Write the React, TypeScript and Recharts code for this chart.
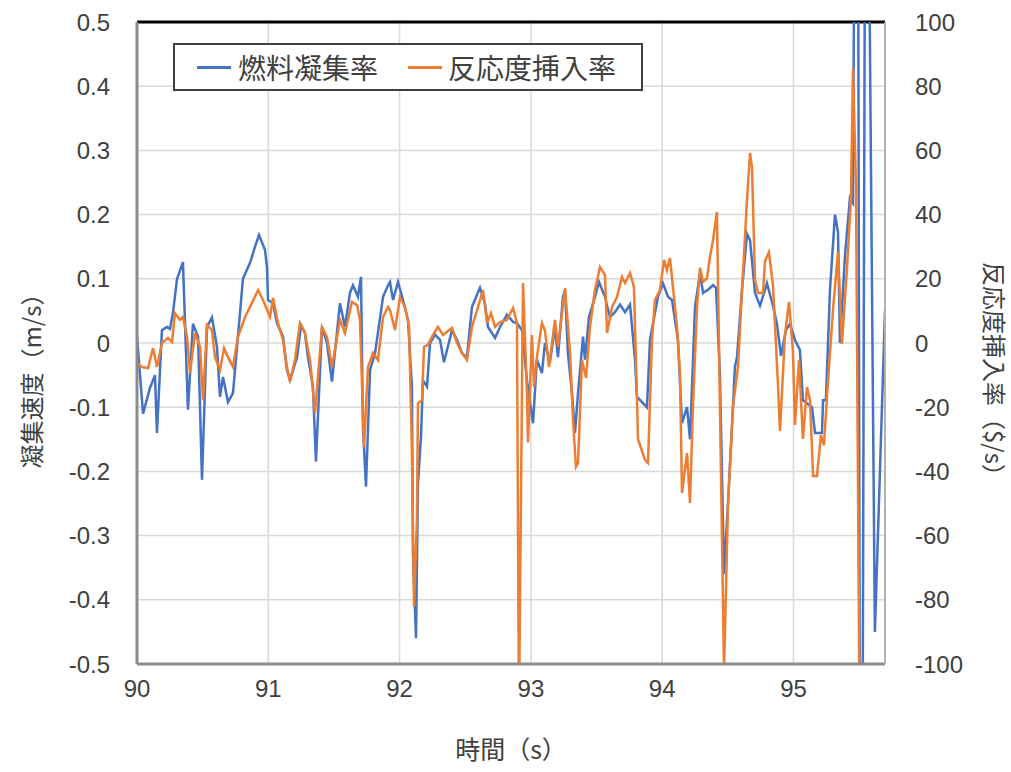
import React from 'react';
import { LineChart, Line, XAxis, YAxis, CartesianGrid, ReferenceLine, Label } from 'recharts';

// 燃料凝集率 (m/s)
const blueTime = [
  90.0, 90.046, 90.099, 90.137, 90.152, 90.19, 90.228, 90.251, 90.274, 90.305, 90.35, 90.388, 90.426, 90.465,
  90.495, 90.533, 90.571, 90.609, 90.632, 90.655, 90.693, 90.731, 90.762, 90.807, 90.861, 90.899, 90.929, 90.975,
  90.99, 90.998, 91.036, 91.066, 91.112, 91.142, 91.165, 91.219, 91.249, 91.279, 91.302, 91.34, 91.363, 91.409,
  91.447, 91.485, 91.523, 91.546, 91.584, 91.622, 91.645, 91.683, 91.706, 91.721, 91.744, 91.775, 91.813, 91.874,
  91.912, 91.927, 91.95, 91.988, 92.026, 92.064, 92.094, 92.102, 92.125, 92.14, 92.163, 92.178, 92.209, 92.232,
  92.27, 92.308, 92.338, 92.399, 92.437, 92.475, 92.513, 92.551, 92.612, 92.65, 92.673, 92.727, 92.765, 92.818,
  92.864, 92.894, 92.932, 92.97, 93.016, 93.046, 93.084, 93.107, 93.145, 93.183, 93.206, 93.244, 93.26, 93.282,
  93.313, 93.336, 93.359, 93.397, 93.412, 93.442, 93.488, 93.519, 93.564, 93.602, 93.64, 93.679, 93.717, 93.755,
  93.793, 93.808, 93.884, 93.907, 93.945, 93.968, 94.006, 94.044, 94.075, 94.12, 94.151, 94.189, 94.212, 94.25,
  94.288, 94.311, 94.349, 94.387, 94.41, 94.44, 94.471, 94.501, 94.539, 94.554, 94.57, 94.608, 94.646, 94.669,
  94.707, 94.745, 94.798, 94.844, 94.874, 94.905, 94.943, 94.973, 95.011, 95.049, 95.072, 95.141, 95.164, 95.217,
  95.225, 95.247, 95.278, 95.316, 95.339, 95.354, 95.392, 95.43, 95.453, 95.484, 95.514, 95.552, 95.62, 95.697,
];
const blueRate = [
  0.01, -0.11, -0.07, -0.05, -0.14, 0.02, 0.025, 0.022, 0.047, 0.1, 0.126, -0.104, 0.03, 0.01,
  -0.213, 0.025, 0.04, -0.006, -0.084, -0.053, -0.092, -0.078, -0.006, 0.1, 0.125, 0.15, 0.168, 0.145,
  0.118, 0.067, 0.062, 0.031, 0.01, -0.042, -0.058, -0.022, 0.028, 0.016, -0.022, -0.068, -0.185, 0.025,
  0.0, -0.06, 0.016, 0.062, 0.025, 0.078, 0.09, 0.072, 0.103, -0.13, -0.224, -0.042, -0.016, 0.072,
  0.09, 0.095, 0.067, 0.095, 0.067, 0.036, -0.068, -0.33, -0.46, -0.22, -0.145, -0.058, -0.068, 0.0,
  0.013, 0.005, -0.03, 0.02, 0.005, -0.016, -0.022, 0.056, 0.086, 0.062, 0.025, 0.008, 0.025, 0.044,
  0.033, 0.031, 0.02, -0.058, -0.125, -0.026, -0.047, 0.0, -0.03, 0.025, -0.022, 0.072, 0.082, -0.016,
  -0.078, -0.14, -0.078, 0.01, -0.026, 0.04, 0.072, 0.095, 0.072, 0.04, 0.048, 0.06, 0.048, 0.06,
  -0.026, -0.084, -0.1, 0.005, 0.047, 0.072, 0.093, 0.072, 0.067, 0.005, -0.125, -0.1, -0.15, 0.056,
  0.109, 0.078, 0.083, 0.09, 0.086, -0.05, -0.36, -0.25, -0.1, -0.037, -0.022, 0.083, 0.17, 0.16,
  0.078, 0.058, 0.093, 0.058, 0.03, -0.02, 0.02, 0.03, 0.005, -0.011, -0.089, -0.1, -0.14, -0.14,
  -0.089, -0.089, 0.083, 0.2, 0.173, 0.0, 0.135, 0.226, 0.218, 1.5, -1.5, 1.2, -0.45, 0.05,
];

// 反応度挿入率 ($/s)
const orangeTime = [
  90.0, 90.038, 90.084, 90.122, 90.152, 90.19, 90.236, 90.267, 90.289, 90.327, 90.35, 90.381, 90.404, 90.442,
  90.48, 90.503, 90.533, 90.571, 90.594, 90.632, 90.663, 90.693, 90.731, 90.769, 90.823, 90.876, 90.922, 90.96,
  91.013, 91.036, 91.074, 91.112, 91.142, 91.165, 91.203, 91.241, 91.279, 91.318, 91.356, 91.409, 91.447, 91.485,
  91.546, 91.584, 91.637, 91.676, 91.698, 91.729, 91.759, 91.797, 91.835, 91.874, 91.912, 91.927, 91.965, 92.003,
  92.041, 92.072, 92.094, 92.11, 92.132, 92.14, 92.171, 92.186, 92.216, 92.254, 92.292, 92.33, 92.399, 92.437,
  92.475, 92.513, 92.551, 92.597, 92.635, 92.666, 92.696, 92.727, 92.765, 92.818, 92.864, 92.894, 92.909, 92.94,
  92.97, 92.978, 93.008, 93.024, 93.046, 93.084, 93.107, 93.138, 93.183, 93.206, 93.26, 93.298, 93.321, 93.343,
  93.359, 93.389, 93.42, 93.45, 93.488, 93.526, 93.564, 93.58, 93.618, 93.656, 93.694, 93.717, 93.755, 93.785,
  93.816, 93.869, 93.892, 93.922, 93.945, 93.983, 94.014, 94.036, 94.059, 94.082, 94.113, 94.135, 94.151, 94.189,
  94.212, 94.234, 94.265, 94.288, 94.311, 94.341, 94.364, 94.387, 94.417, 94.471, 94.501, 94.539, 94.577, 94.608,
  94.646, 94.669, 94.684, 94.707, 94.73, 94.768, 94.783, 94.813, 94.844, 94.882, 94.897, 94.935, 94.966, 94.996,
  95.011, 95.042, 95.072, 95.103, 95.126, 95.149, 95.179, 95.209, 95.232, 95.263, 95.301, 95.339, 95.369, 95.407,
  95.438, 95.453, 95.476, 95.507,
];
const orangeRate = [
  -6.2, -7.5, -7.8, -1.6, -7.5, 0, 1.6, 0.3, 9.3, 7.2, 8.1, 1.9, -9.3, 3.1,
  -1.2, -17.8, 5.6, 4.0, -4.4, -8.4, -1.6, -4.4, -7.5, 1.9, 8.1, 12.5, 16.5, 13.4,
  8.1, 14, 6.2, 0.9, -7.5, -12.1, -5.3, 6.2, 3.1, -5.3, -21.8, 5, 1.9, -7.5,
  7.2, 3.1, 12.8, 11.8, 7.2, -32.4, -7.5, -3.1, -5.3, 8.1, 11.2, 10.3, 4.0, 14.3,
  11.2, 5, -34, -82, -55, -18.7, -17.8, -1.2, -0.6, 2.5, 5, 2.5, 4.7, 0,
  -3.1, -5.3, 5, 11.2, 16.5, 6.2, 9.3, 5, 6.5, 7.2, 10.9, 6.2, -115, 18.7,
  -15.6, -31, 2.5, -13.7, -4.4, 6.2, 4.0, -7.5, 7.2, -1.2, 17.1, -3.1, -24, -38.6,
  -37.4, -5.3, -10.9, 5, 16.5, 23.7, 21.2, 3.1, 11.2, 14.3, 20.6, 18.7, 21.8, 17.4,
  -30, -36.4, -37.4, 0.9, 13.4, 16.5, 25.9, 22.7, 26.5, 17.4, 5, -9.3, -46.7, -34.3,
  -49.8, -19.9, 11.2, 23.4, 19, 20.2, 26.8, 32, 40.8, -102, -51, -19.9, -7.5, 16.5,
  44.5, 59.2, 54.8, 19.6, 15.6, 15.6, 25.5, 28.3, 17.8, -13, -27.4, 2.5, 12.8, -2.8,
  -25.5, -5.3, -29.9, -13.7, -17.8, -41.4, -41.4, -28.7, -31.8, -11.8, 10.3, 28.3, -0.3, 23,
  45.2, 85.7, 49, -140,
];

const timeTicks = [90, 91, 92, 93, 94, 95];
const speedTicks = [-0.5, -0.4, -0.3, -0.2, -0.1, 0, 0.1, 0.2, 0.3, 0.4, 0.5];
const rateTicks = [-100, -80, -60, -40, -20, 0, 20, 40, 60, 80, 100];

const blueData = blueTime.map((t, i) => ({ t, v: blueRate[i] }));
const orangeData = orangeTime.map((t, i) => ({ t, v: orangeRate[i] }));

const BLUE = '#4472C4';
const ORANGE = '#ED7D31';
const TEXT = '#404040';
const tickStyle = { fontSize: 24, fill: TEXT, fontFamily: '"Liberation Sans", Arial, sans-serif' };
const jp = '"Noto Sans CJK JP", sans-serif';

// vertical axis title drawn in svg so it rotates with the chart
const AxisTitle = ({ viewBox, text, side }: any) => {
    const { x, y, width, height } = viewBox;
    const cx = side === 'left' ? x + 30 : x + width - 16;
    const cy = y + height / 2 + 32;
    return (
        <text
            x={cx}
            y={cy}
            transform={`rotate(${side === 'left' ? -90 : 90}, ${cx}, ${cy})`}
            textAnchor="middle"
            dominantBaseline="central"
            fontFamily={jp}
            fontSize={24}
            fill={TEXT}
        >
            {text}
        </text>
    );
};

export default function App() {
    return (
        <div style={{ position: 'absolute', left: 0, top: 0, width: 1011, height: 772, background: '#fff', overflow: 'hidden' }}>
            <LineChart
                width={1011}
                height={772}
                margin={{ top: 22, right: 0, left: 0, bottom: 0 }}
            >
                <CartesianGrid stroke="#d9d9d9" strokeWidth={1.5} yAxisId="left" />
                <XAxis
                    dataKey="t"
                    type="number"
                    domain={[90, 95.697]}
                    ticks={timeTicks}
                    allowDataOverflow
                    height={108}
                    tickSize={0}
                    tickMargin={16}
                    tick={tickStyle}
                    stroke="#8c8c8c"
                    strokeWidth={3}
                />
                <YAxis
                    yAxisId="left"
                    domain={[-0.5, 0.5]}
                    ticks={speedTicks}
                    allowDataOverflow
                    width={137}
                    tickSize={0}
                    tickMargin={27}
                    tick={tickStyle}
                    tickFormatter={(v: number) => (v === 0 ? '0' : v.toFixed(1))}
                    stroke="#8c8c8c"
                    strokeWidth={3}
                >
                    <Label content={(props: any) => <AxisTitle {...props} side="left" text="凝集速度（m/s）" />} />
                </YAxis>
                <YAxis
                    yAxisId="right"
                    orientation="right"
                    domain={[-100, 100]}
                    ticks={rateTicks}
                    allowDataOverflow
                    width={126}
                    tickSize={0}
                    tickMargin={30}
                    tick={tickStyle}
                    stroke="#b0b0b0"
                    strokeWidth={2}
                >
                    <Label content={(props: any) => <AxisTitle {...props} side="right" text="反応度挿入率（$/s）" />} />
                </YAxis>
                <ReferenceLine yAxisId="left" y={0.5} stroke="#000" strokeWidth={3} />
                <Line
                    yAxisId="left"
                    data={blueData}
                    dataKey="v"
                    type="linear"
                    stroke={BLUE}
                    strokeWidth={2.5}
                    dot={false}
                    isAnimationActive={false}
                />
                <Line
                    yAxisId="right"
                    data={orangeData}
                    dataKey="v"
                    type="linear"
                    stroke={ORANGE}
                    strokeWidth={2.5}
                    dot={false}
                    isAnimationActive={false}
                />
            </LineChart>

            {/* legend box inside the plot */}
            <div style={{
                position: 'absolute', left: 173, top: 43, width: 466, height: 44,
                border: '2px solid #404040', background: '#fff', fontFamily: jp, fontSize: 28, color: TEXT,
            }}>
                <div style={{ position: 'absolute', left: 22, top: 21, width: 34, height: 3, background: BLUE }} />
                <div style={{ position: 'absolute', left: 63, top: 2, lineHeight: '40px', whiteSpace: 'nowrap' }}>燃料凝集率</div>
                <div style={{ position: 'absolute', left: 233, top: 21, width: 34, height: 3, background: ORANGE }} />
                <div style={{ position: 'absolute', left: 273, top: 2, lineHeight: '40px', whiteSpace: 'nowrap' }}>反応度挿入率</div>
            </div>

            <div style={{
                position: 'absolute', left: 511, top: 748, transform: 'translate(-50%, -50%)',
                whiteSpace: 'nowrap', fontFamily: jp, fontSize: 25, lineHeight: 1, color: TEXT,
            }}>時間（s）</div>
        </div>
    );
}
